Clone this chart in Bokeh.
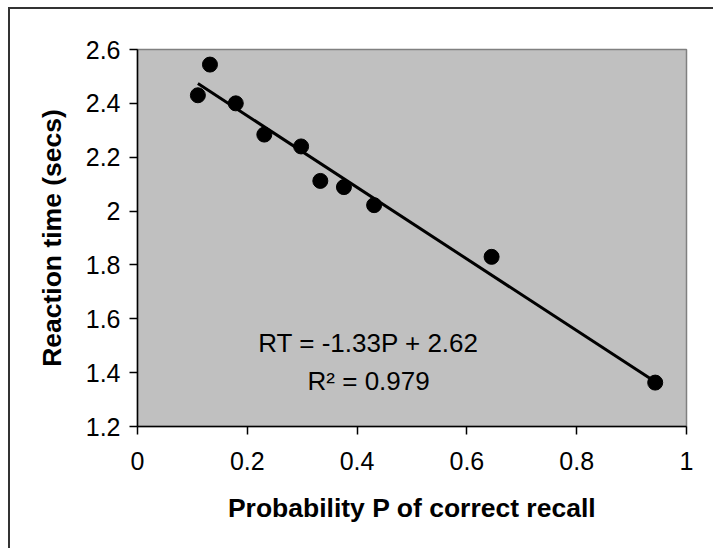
import numpy as np
from bokeh.plotting import figure
from bokeh.models import Range1d, FixedTicker, ColumnDataSource
from bokeh.core.properties import value
from bokeh.embed import file_html
from bokeh.resources import INLINE

# ---- data ----
p_recall = [0.110, 0.132, 0.179, 0.231, 0.298, 0.333, 0.376, 0.431, 0.645, 0.943]
reaction_time = [2.430, 2.544, 2.400, 2.284, 2.240, 2.112, 2.089, 2.022, 1.830, 1.363]
x_ticks = [0, 0.2, 0.4, 0.6, 0.8, 1.0]
x_tick_labels = ["0", "0.2", "0.4", "0.6", "0.8", "1"]
y_ticks = [1.2, 1.4, 1.6, 1.8, 2.0, 2.2, 2.4, 2.6]
y_tick_labels = ["1.2", "1.4", "1.6", "1.8", "2", "2.2", "2.4", "2.6"]
slope = -1.33
intercept = 2.62
r_squared = 0.979
x_title = "Probability P of correct recall"
y_title = "Reaction time (secs)"

FONT = "Liberation Sans"

p = figure(width=705, height=541, output_backend="svg", toolbar_location=None,
           x_range=Range1d(0, 1), y_range=Range1d(1.2, 2.6),
           min_border_left=127, min_border_right=29, min_border_top=40, min_border_bottom=124)
p.styles = {"margin-left": "8px", "margin-top": "7px",
            "border-left": "2px solid #333333", "border-top": "2px solid #333333"}

p.background_fill_color = "#C0C0C0"
p.border_fill_color = "white"
p.outline_line_color = "#808080"
p.outline_line_width = 1.5
p.xgrid.visible = False
p.ygrid.visible = False

# trend line from the fitted coefficients, spanning the data
tx = np.array([min(p_recall), max(p_recall)])
ty = slope * tx + intercept
p.line(tx, ty, line_color="black", line_width=3)

src = ColumnDataSource(dict(x=p_recall, y=reaction_time))
p.scatter("x", "y", source=src, size=15, fill_color="black", line_color="black")

p.text(x=[0.421], y=[1.509], text=[f"RT = {slope:.2f}P + {intercept:.2f}"],
       text_font=value(FONT), text_font_size="26px", text_color="black",
       text_align="center", text_baseline="middle")
p.text(x=[0.421], y=[1.368], text=[f"R\u00b2 = {r_squared:.3f}"],
       text_font=value(FONT), text_font_size="26px", text_color="black",
       text_align="center", text_baseline="middle")

for ax, ticks, labels in ((p.xaxis[0], x_ticks, x_tick_labels), (p.yaxis[0], y_ticks, y_tick_labels)):
    ax.ticker = FixedTicker(ticks=ticks)
    ax.major_label_overrides = {t: l for t, l in zip(ticks, labels)}
    ax.minor_tick_line_color = None
    ax.major_tick_in = 0
    ax.major_tick_out = 8
    ax.major_tick_line_color = "black"
    ax.major_tick_line_width = 1.5
    ax.axis_line_color = "black"
    ax.axis_line_width = 1.5
    ax.major_label_text_font = FONT
    ax.major_label_text_font_size = "25px"
    ax.major_label_text_color = "black"
    ax.axis_label_text_font = FONT
    ax.axis_label_text_font_size = "26.5px"
    ax.axis_label_text_font_style = "bold"
    ax.axis_label_text_color = "black"

p.xaxis.axis_label = x_title
p.yaxis.axis_label = y_title
p.xaxis.major_label_standoff = 17
p.yaxis.major_label_standoff = 9
p.xaxis.axis_label_standoff = 20
p.yaxis.axis_label_standoff = 16

open("out.html", "w").write(file_html(p, INLINE))
